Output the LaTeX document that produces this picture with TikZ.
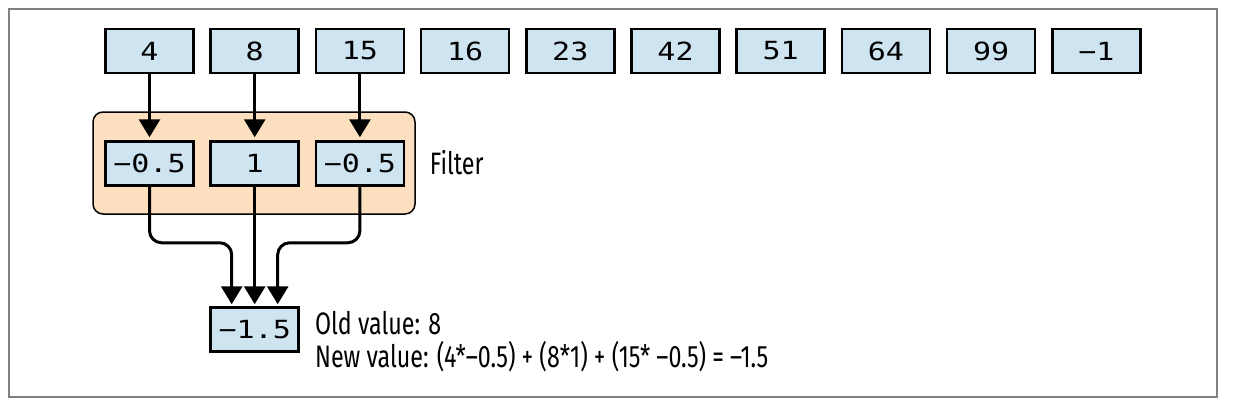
\documentclass[tikz,border=0pt]{standalone}
\usepackage{fontspec}
\usepackage{tikz}
\usetikzlibrary{arrows.meta,positioning}
\setmainfont{Fira Sans}[FakeStretch=0.75]
\newfontfamily\cellfont{DejaVu Sans Mono}[FakeStretch=1.2]
\definecolor{cellblue}{RGB}{206,228,241}
\definecolor{filterpeach}{RGB}{252,223,191}
\definecolor{framegray}{RGB}{128,128,128}

\begin{document}
\begin{tikzpicture}[x=1pt, y=1pt, node distance=105.2pt,
    cell/.style={draw, line width=2.5pt, fill=cellblue, minimum width=88pt, minimum height=44pt, inner sep=0pt, font=\cellfont\fontsize{25}{25}\selectfont},
    arr/.style={-{Triangle[width=21pt,length=18pt]}, line width=3pt},
    note/.style={inner sep=0pt, font=\fontsize{31}{33}\selectfont}]
            \useasboundingbox (0,0) rectangle (1234,-402);
            \draw[framegray, line width=1.5pt] (9,-9) rectangle (1217,-397);

            \node [cell] (a1) at (149.5,-51) {4};
            \node [cell, right of=a1] (a2) {8};
            \node [cell, right of=a2] (a3) {15};
            \node [cell, right of=a3] (a4) {16};
            \node [cell, right of=a4] (a5) {23};
            \node [cell, right of=a5] (a6) {42};
            \node [cell, right of=a6] (a7) {51};
            \node [cell, right of=a7] (a8) {64};
            \node [cell, right of=a8] (a9) {99};
            \node [cell, right of=a9] (a10) {−1};

            \node [draw, line width=1.5pt, rounded corners=10pt, fill=filterpeach, minimum width=322pt, minimum height=102pt] (filter) at (254,-163) {};
            \node [cell, below of=a1, node distance=112.5pt] (f1) {−0.5};
            \node [cell, right of=f1] (f2) {1};
            \node [cell, right of=f2] (f3) {−0.5};
            \node [note, anchor=west, right=14pt of filter.east] (flabel) {Filter};

            \node [cell, below of=f2, node distance=166pt] (r) {−1.5};
            \node [note, anchor=base west] (old) at ([xshift=15pt, yshift=-4.5pt]r.east) {Old value: 8};
            \node [note, anchor=base west] (new) at ([yshift=-33pt]old.base west) {New value: (4*–0.5) + (8*1) + (15* –0.5) = –1.5};

            \draw[arr, shorten >=3pt] (a1) -- (f1);
            \draw[arr, shorten >=3pt] (a2) -- (f2);
            \draw[arr, shorten >=3pt] (a3) -- (f3);

            \draw[arr, rounded corners=12pt] (f1.south) -- ++(0,-56) -| ([xshift=-23pt, yshift=2pt]r.north);
            \draw[arr, shorten >=2pt] (f2) -- (r);
            \draw[arr, rounded corners=12pt] (f3.south) -- ++(0,-56) -| ([xshift=23pt, yshift=2pt]r.north);
        \end{tikzpicture}
\end{document}
